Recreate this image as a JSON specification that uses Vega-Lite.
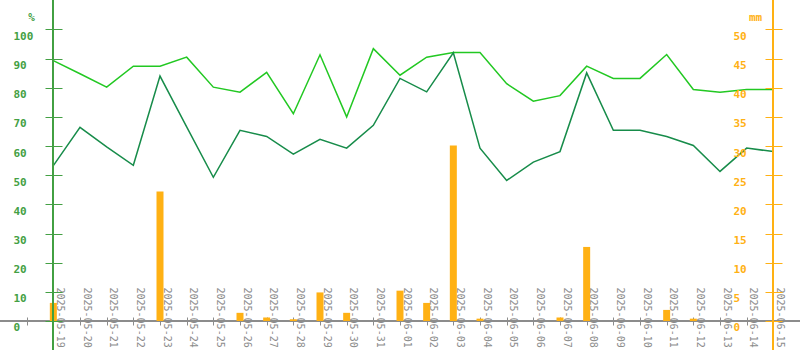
{
  "$schema": "https://vega.github.io/schema/vega-lite/v6.json",
  "width": 800,
  "height": 350,
  "padding": 0,
  "autosize": {"type": "none"},
  "background": "white",
  "config": {"view": {"stroke": null}, "axis": {"grid": false}},
  "data": {
    "values": [
      {"date": "2025-05-19", "hmax": 89.3, "hmin": 53.3, "rain": 3.1},
      {"date": "2025-05-20", "hmax": 84.8, "hmin": 66.4, "rain": 0},
      {"date": "2025-05-21", "hmax": 80.2, "hmin": 59.7, "rain": 0},
      {"date": "2025-05-22", "hmax": 87.4, "hmin": 53.4, "rain": 0},
      {"date": "2025-05-23", "hmax": 87.4, "hmin": 84.0, "rain": 22.2},
      {"date": "2025-05-24", "hmax": 90.5, "hmin": 66.6, "rain": 0},
      {"date": "2025-05-25", "hmax": 80.2, "hmin": 49.3, "rain": 0},
      {"date": "2025-05-26", "hmax": 78.5, "hmin": 65.4, "rain": 1.4},
      {"date": "2025-05-27", "hmax": 85.3, "hmin": 63.3, "rain": 0.6},
      {"date": "2025-05-28", "hmax": 71.1, "hmin": 57.2, "rain": 0.3},
      {"date": "2025-05-29", "hmax": 91.3, "hmin": 62.3, "rain": 4.9},
      {"date": "2025-05-30", "hmax": 70.0, "hmin": 59.3, "rain": 1.4},
      {"date": "2025-05-31", "hmax": 93.4, "hmin": 67.1, "rain": 0},
      {"date": "2025-06-01", "hmax": 84.3, "hmin": 83.2, "rain": 5.2},
      {"date": "2025-06-02", "hmax": 90.5, "hmin": 78.6, "rain": 3.1},
      {"date": "2025-06-03", "hmax": 92.1, "hmin": 92.0, "rain": 30.1},
      {"date": "2025-06-04", "hmax": 92.1, "hmin": 59.3, "rain": 0.4},
      {"date": "2025-06-05", "hmax": 81.4, "hmin": 48.2, "rain": 0},
      {"date": "2025-06-06", "hmax": 75.4, "hmin": 54.5, "rain": 0},
      {"date": "2025-06-07", "hmax": 77.3, "hmin": 58.1, "rain": 0.6},
      {"date": "2025-06-08", "hmax": 87.4, "hmin": 85.1, "rain": 12.7},
      {"date": "2025-06-09", "hmax": 83.2, "hmin": 65.4, "rain": 0},
      {"date": "2025-06-10", "hmax": 83.2, "hmin": 65.4, "rain": 0},
      {"date": "2025-06-11", "hmax": 91.4, "hmin": 63.3, "rain": 1.9},
      {"date": "2025-06-12", "hmax": 79.4, "hmin": 60.2, "rain": 0.4},
      {"date": "2025-06-13", "hmax": 78.5, "hmin": 51.3, "rain": 0},
      {"date": "2025-06-14", "hmax": 79.4, "hmin": 59.3, "rain": 0},
      {"date": "2025-06-15", "hmax": 79.4, "hmin": 58.1, "rain": 0}
    ]
  },
  "layer": [
    {
      "layer": [
        {
          "mark": {"type": "line", "color": "#22c822", "strokeWidth": 1.5},
          "encoding": {
            "x": {
              "field": "date", "type": "temporal", "title": null,
              "scale": {"type": "utc", "padding": 0, "domain": [{"year": 2025, "month": 5, "date": 17, "utc": true}, {"year": 2025, "month": 6, "date": 16, "utc": true}]},
              "axis": {
                "orient": "bottom", "offset": -33, "domain": false, "tickSize": 8, "tickColor": "#8c8c8c",
                "labelAngle": 90, "labelAlign": "left", "labelBaseline": "middle", "labelPadding": -38, "labelOffset": 6,
                "labelFont": "DejaVu Sans Mono", "labelFontSize": 10, "labelColor": "#8c8c8c",
                "labelOverlap": false, "labelFlush": false, "labelBound": false,
                "format": "%Y-%m-%d",
                "labelExpr": "datum.label == '2025-05-18' ? '' : datum.label",
                "values": [
                  {"year": 2025, "month": 5, "date": 18, "utc": true},
                  {"year": 2025, "month": 5, "date": 19, "utc": true},
                  {"year": 2025, "month": 5, "date": 20, "utc": true},
                  {"year": 2025, "month": 5, "date": 21, "utc": true},
                  {"year": 2025, "month": 5, "date": 22, "utc": true},
                  {"year": 2025, "month": 5, "date": 23, "utc": true},
                  {"year": 2025, "month": 5, "date": 24, "utc": true},
                  {"year": 2025, "month": 5, "date": 25, "utc": true},
                  {"year": 2025, "month": 5, "date": 26, "utc": true},
                  {"year": 2025, "month": 5, "date": 27, "utc": true},
                  {"year": 2025, "month": 5, "date": 28, "utc": true},
                  {"year": 2025, "month": 5, "date": 29, "utc": true},
                  {"year": 2025, "month": 5, "date": 30, "utc": true},
                  {"year": 2025, "month": 5, "date": 31, "utc": true},
                  {"year": 2025, "month": 6, "date": 1, "utc": true},
                  {"year": 2025, "month": 6, "date": 2, "utc": true},
                  {"year": 2025, "month": 6, "date": 3, "utc": true},
                  {"year": 2025, "month": 6, "date": 4, "utc": true},
                  {"year": 2025, "month": 6, "date": 5, "utc": true},
                  {"year": 2025, "month": 6, "date": 6, "utc": true},
                  {"year": 2025, "month": 6, "date": 7, "utc": true},
                  {"year": 2025, "month": 6, "date": 8, "utc": true},
                  {"year": 2025, "month": 6, "date": 9, "utc": true},
                  {"year": 2025, "month": 6, "date": 10, "utc": true},
                  {"year": 2025, "month": 6, "date": 11, "utc": true},
                  {"year": 2025, "month": 6, "date": 12, "utc": true},
                  {"year": 2025, "month": 6, "date": 13, "utc": true},
                  {"year": 2025, "month": 6, "date": 14, "utc": true},
                  {"year": 2025, "month": 6, "date": 15, "utc": true}
                ]
              }
            },
            "y": {
              "field": "hmax", "type": "quantitative",
              "scale": {"domain": [-9.95, 110.1], "nice": false, "zero": false},
              "axis": {
                "orient": "left", "offset": -62, "domain": false, "tickSize": 17, "tickColor": "#44a044", "zindex": 1,
                "values": [0, 10, 20, 30, 40, 50, 60, 70, 80, 90, 100],
                "labelAlign": "left", "labelBaseline": "middle", "labelPadding": 32, "labelOffset": 7,
                "labelFont": "DejaVu Sans Mono", "labelFontSize": 11, "labelFontWeight": "bold", "labelColor": "#44a044",
                "labelOverlap": false, "labelFlush": false, "labelBound": false,
                "title": "%", "titleAngle": 0, "titleX": -31, "titleY": 17, "titleAlign": "center", "titleBaseline": "middle",
                "titleFont": "DejaVu Sans Mono", "titleFontSize": 11, "titleFontWeight": "bold", "titleColor": "#44a044"
              }
            }
          }
        },
        {
          "mark": {"type": "line", "color": "#178c4a", "strokeWidth": 1.5},
          "encoding": {
            "x": {"field": "date", "type": "temporal", "axis": null},
            "y": {"field": "hmin", "type": "quantitative", "axis": null}
          }
        },
        {
          "mark": {"type": "rule", "color": "#8c8c8c", "strokeWidth": 1},
          "encoding": {
            "y": {"datum": 0, "type": "quantitative", "axis": null}
          }
        }
      ],
      "resolve": {"axis": {"x": "independent", "y": "independent"}}
    },
    {
      "mark": {"type": "bar", "color": "#ffb114", "size": 7},
      "encoding": {
        "x": {"field": "date", "type": "temporal", "axis": null},
        "y": {
          "field": "rain", "type": "quantitative",
          "scale": {"domain": [-4.975, 55.05], "nice": false, "zero": false},
          "axis": {
            "orient": "right", "offset": -35, "domain": false, "tickSize": 17, "tickColor": "#ffb114", "zindex": 1,
            "values": [0, 5, 10, 15, 20, 25, 30, 35, 40, 45, 50],
            "labelAlign": "left", "labelBaseline": "middle", "labelPadding": -49, "labelOffset": 7,
            "labelFont": "DejaVu Sans Mono", "labelFontSize": 11, "labelFontWeight": "bold", "labelColor": "#ffb114",
            "labelOverlap": false, "labelFlush": false, "labelBound": false,
            "title": "mm", "titleAngle": 0, "titleX": -10, "titleY": 17, "titleAlign": "center", "titleBaseline": "middle",
            "titleFont": "DejaVu Sans Mono", "titleFontSize": 11, "titleFontWeight": "bold", "titleColor": "#ffb114"
          }
        }
      }
    },
    {
      "mark": {"type": "rule", "color": "#44a044", "strokeWidth": 1},
      "encoding": {
        "x": {"datum": {"year": 2025, "month": 5, "date": 19, "utc": true}, "type": "temporal", "axis": null}
      }
    },
    {
      "mark": {"type": "rule", "color": "#ffb114", "strokeWidth": 1},
      "encoding": {
        "x": {"datum": {"year": 2025, "month": 6, "date": 15, "utc": true}, "type": "temporal", "axis": null}
      }
    }
  ],
  "resolve": {"scale": {"y": "independent"}, "axis": {"x": "independent"}}
}
